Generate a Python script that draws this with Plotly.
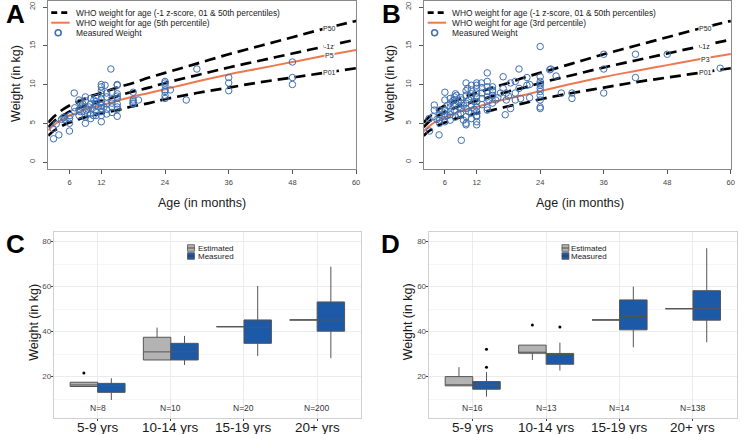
import plotly.graph_objects as go

W, H = 743, 434
FONT = "Liberation Sans, Arial, sans-serif"

# ---------------- Panels A/B : WHO weight-for-age reference curves (kg) ----------------
who_months = [2, 3, 4, 5, 6, 7, 8, 9, 10, 11, 12, 15, 18, 21, 24, 30, 36, 42, 48, 54, 60]
who_p50 = [5.1, 5.8, 6.4, 6.9, 7.3, 7.6, 7.9, 8.2, 8.5, 8.7, 8.9, 9.6, 10.2, 10.9, 11.5, 12.7, 13.9, 15.0, 16.1, 17.2, 18.2]
who_m1z = [4.5, 5.2, 5.7, 6.1, 6.5, 6.8, 7.0, 7.3, 7.5, 7.7, 7.9, 8.5, 9.1, 9.6, 10.2, 11.2, 12.2, 13.1, 14.0, 14.9, 15.8]
who_p01 = [3.4, 4.0, 4.4, 4.8, 5.1, 5.3, 5.6, 5.8, 5.9, 6.1, 6.3, 6.7, 7.2, 7.6, 8.1, 8.9, 9.6, 10.3, 10.9, 11.5, 12.1]
who_p5 = [4.1, 4.75, 5.25, 5.6, 6.0, 6.25, 6.5, 6.8, 7.0, 7.15, 7.3, 7.9, 8.45, 8.9, 9.4, 10.4, 11.3, 12.1, 12.9, 13.7, 14.45]
who_p3 = [3.97, 4.6, 5.1, 5.45, 5.8, 6.05, 6.3, 6.6, 6.75, 6.95, 7.1, 7.7, 8.2, 8.65, 9.15, 10.1, 10.97, 11.75, 12.5, 13.25, 13.95]
age_ticks = [6, 12, 24, 36, 48, 60]
wt_ticks = [0, 5, 10, 15, 20]

# Measured weights, panel A
a_age = [3.0, 4.0, 2.9, 3.5, 4.8, 5.1, 6.0, 6.0, 6.0, 6.1, 6.9, 7.8, 7.8, 7.8, 8.2, 8.5, 9.0, 9.0, 9.0, 9.2,
         9.4, 9.7, 10.0, 10.0, 10.0, 10.3, 10.6, 10.9, 11.0, 11.5, 12, 12, 12, 12, 12, 12, 12, 12, 12, 12,
         12.7, 13.8, 13, 13, 13, 14, 14, 14, 15, 15, 15, 15, 15, 15, 18, 18, 18, 19, 24, 24,
         24, 24, 24, 24, 24, 25, 28, 30, 36, 36, 36, 48, 48, 48,
         8, 8, 9, 9.5, 10, 10.5, 11, 11, 11, 13, 13, 14, 14, 15, 15, 7, 7, 5, 4.5, 12, 12.5, 15, 18, 18]
a_wt = [3.0, 3.5, 4.3, 4.9, 5.7, 5.5, 4.0, 5.0, 5.6, 6.0, 8.9, 8.0, 6.7, 6.0, 7.1, 7.5, 8.4, 5.0, 5.8, 6.7,
        6.2, 7.1, 7.5, 6.2, 5.6, 6.9, 8.0, 7.3, 6.5, 7.1, 9.7, 9.2, 8.8, 8.2, 7.7, 7.3, 6.9, 6.5, 6.0, 5.2,
        9.9, 12.0, 8.4, 7.5, 6.2, 8.0, 7.1, 9.0, 9.9, 8.8, 8.2, 7.5, 7.1, 5.9, 9.0, 8.0, 7.5, 8.0, 10.4, 10.2,
        9.9, 9.3, 9.1, 8.6, 8.2, 9.3, 8.0, 12.0, 10.9, 10.2, 9.2, 12.9, 10.9, 10.0,
        6.5, 7.7, 7.9, 6.8, 8.2, 6.0, 7.8, 6.0, 8.3, 8.9, 6.8, 6.4, 7.6, 6.8, 8.5, 7.0, 6.5, 5.8, 5.5, 10.0, 7.1, 10.0, 7.8, 7.6]

# Measured weights, panel B
b_age = [3.1, 4.0, 3.8, 4.9, 5, 5, 5, 5, 5.9, 6, 6, 6, 7, 7, 7, 7, 7, 7.8, 7.8, 7.8,
         7.8, 8.2, 8.5, 8.6, 9.1, 9.1, 9.1, 9.1, 10, 10, 10, 10, 10, 10, 10, 10.3, 11, 11, 11, 11,
         11, 12, 12, 12, 12, 12, 12, 12, 12, 12, 12, 12.9, 13, 13, 14, 14, 14, 14, 14, 14.3,
         15, 15, 15, 15.6, 16.5, 17, 17, 17.4, 17.6, 17.6, 18.4, 18.4, 19.3, 19.3, 19.3, 20.3, 21.5, 21.5, 24, 24,
         24, 24, 24, 24, 24, 24, 24, 24, 24, 25.8, 27, 28, 30, 30, 36, 36, 36, 42, 42, 48,
         58, 6.5, 7.5, 8, 8, 8.5, 9, 9, 9.5, 9.5, 10, 10.5, 10.5, 11, 11, 11.5, 11.5, 12, 12, 13,
         13, 14, 14, 15, 15, 16, 18, 20, 20, 22, 22, 26, 6, 7, 6.5, 6, 5.5, 4.5, 4, 3]
b_wt = [4.0, 7.35, 5.85, 3.5, 5.0, 5.4, 6.1, 6.7, 5.85, 6.7, 8.0, 9.0, 5.4, 6.1, 6.5, 7.1, 7.6, 7.35, 8.0, 8.4,
        6.7, 8.6, 6.1, 7.1, 2.8, 8.0, 7.6, 6.9, 10.2, 8.6, 7.6, 6.9, 5.85, 4.8, 5.0, 9.5, 9.9, 9.3, 8.4, 7.35,
        6.3, 8.9, 8.4, 7.8, 7.1, 6.5, 5.85, 5.2, 4.8, 9.9, 9.5, 10.2, 8.9, 8.2, 11.5, 10.4, 9.7, 9.1, 8.4, 8.0,
        9.1, 9.7, 8.6, 8.0, 8.9, 9.5, 11.0, 6.1, 8.9, 8.0, 10.2, 6.9, 10.4, 8.9, 8.0, 8.2, 10.9, 9.9, 11.0, 10.4,
        9.9, 9.5, 9.1, 8.0, 7.1, 6.9, 14.9, 10.1, 8.6, 11.9, 11.1, 8.9, 8.9, 8.2, 13.9, 12.0, 8.9, 13.9, 10.9, 13.9,
        12.1, 7.3, 7.9, 8.8, 5.8, 7.8, 8.3, 6.2, 7.3, 5.4, 9.2, 8.0, 6.5, 8.8, 5.6, 7.8, 6.8, 10.2, 6.0, 7.4,
        9.6, 7.0, 6.7, 7.6, 9.3, 8.3, 8.5, 9.5, 12.0, 8.3, 10.0, 12.0, 5.2, 8.2, 6.0, 6.2, 6.5, 5.5, 6.7, 5.6]

# ---------------- Panels C/D : box-plot summaries (kg) ----------------
age_groups = ["5-9 yrs", "10-14 yrs", "15-19 yrs", "20+ yrs"]
c_n_labels = ["N=8", "N=10", "N=20", "N=200"]
d_n_labels = ["N=16", "N=13", "N=14", "N=138"]
box_wt_ticks = [20, 40, 60, 80]

c_est_lo = [15.6, 27.4, 42.2, 45.2]
c_est_q1 = [15.6, 27.4, 42.2, 45.2]
c_est_med = [16.3, 31.0, 42.2, 45.2]
c_est_q3 = [17.5, 37.5, 42.2, 45.2]
c_est_hi = [17.5, 41.8, 42.2, 45.2]
c_meas_lo = [9.6, 25.2, 29.2, 28.2]
c_meas_q1 = [13.0, 27.4, 34.8, 40.2]
c_meas_med = [16.0, 31.1, 41.8, 45.2]
c_meas_q3 = [17.0, 34.8, 45.2, 53.2]
c_meas_hi = [19.3, 38.1, 60.3, 68.9]
c_out_group = [0]
c_out_series = ["est"]
c_out_val = [21.6]

d_est_lo = [15.9, 27.4, 45.2, 50.2]
d_est_q1 = [15.9, 30.4, 45.2, 50.2]
d_est_med = [15.9, 30.4, 45.2, 50.2]
d_est_q3 = [20.0, 34.0, 45.2, 50.2]
d_est_hi = [24.2, 34.0, 45.2, 50.2]
d_meas_lo = [11.1, 22.7, 33.0, 35.3]
d_meas_q1 = [14.4, 25.5, 40.8, 45.1]
d_meas_med = [16.2, 29.8, 46.7, 50.2]
d_meas_q3 = [17.8, 30.3, 54.1, 58.2]
d_meas_hi = [22.0, 35.1, 60.0, 77.1]
d_out_group = [1, 0, 0, 1]
d_out_series = ["est", "meas", "meas", "meas"]
d_out_val = [43.0, 32.2, 24.2, 42.1]

# ---------------- styling ----------------
BLUE_PT = "#3f70b2"
ORANGE = "#ee7850"
EST_FILL = "#b3b3b3"
MEAS_FILL = "#1c5aa8"
BOX_LINE = "#555555"
DODGE = 0.1875
BOXW = 0.375


def fx(x):
    return x / W


def fy(y):
    return 1 - y / H


fig = go.Figure()

# ----- Panels A and B -----
panels_ab = [
    dict(xa="x", ya="y", age=a_age, wt=a_wt, mid=who_p5, midlab="P5"),
    dict(xa="x2", ya="y2", age=b_age, wt=b_wt, mid=who_p3, midlab="P3"),
]
for p in panels_ab:
    for curve in (who_p50, who_m1z, who_p01):
        fig.add_trace(go.Scatter(x=who_months, y=curve, mode="lines", xaxis=p["xa"], yaxis=p["ya"],
                                 line=dict(color="black", width=2.7, dash="11px,6px", shape="spline"),
                                 hoverinfo="skip"))
    fig.add_trace(go.Scatter(x=who_months, y=p["mid"], mode="lines", xaxis=p["xa"], yaxis=p["ya"],
                             line=dict(color=ORANGE, width=2, shape="spline"), hoverinfo="skip"))
    fig.add_trace(go.Scatter(x=p["age"], y=p["wt"], mode="markers", xaxis=p["xa"], yaxis=p["ya"],
                             marker=dict(symbol="circle-open", size=6.5, color=BLUE_PT,
                                         line=dict(width=1, color=BLUE_PT))))

# ----- Panels C and D -----
panels_cd = [
    dict(xa="x3", ya="y3",
         est=(c_est_lo, c_est_q1, c_est_med, c_est_q3, c_est_hi),
         meas=(c_meas_lo, c_meas_q1, c_meas_med, c_meas_q3, c_meas_hi),
         og=c_out_group, os=c_out_series, ov=c_out_val, n=c_n_labels),
    dict(xa="x4", ya="y4",
         est=(d_est_lo, d_est_q1, d_est_med, d_est_q3, d_est_hi),
         meas=(d_meas_lo, d_meas_q1, d_meas_med, d_meas_q3, d_meas_hi),
         og=d_out_group, os=d_out_series, ov=d_out_val, n=d_n_labels),
]
cat_pos = [i + 1 for i in range(len(age_groups))]
for p in panels_cd:
    for key, off, fill in (("est", -DODGE, EST_FILL), ("meas", DODGE, MEAS_FILL)):
        lo, q1, med, q3, hi = p[key]
        fig.add_trace(go.Box(x=[c + off for c in cat_pos], lowerfence=lo, q1=q1, median=med, q3=q3,
                             upperfence=hi, width=BOXW, whiskerwidth=0, boxpoints=False,
                             fillcolor=fill, line=dict(color=BOX_LINE, width=1),
                             xaxis=p["xa"], yaxis=p["ya"], hoverinfo="skip"))
    ox = [cat_pos[g] + (-DODGE if s == "est" else DODGE) for g, s in zip(p["og"], p["os"])]
    fig.add_trace(go.Scatter(x=ox, y=p["ov"], mode="markers", xaxis=p["xa"], yaxis=p["ya"],
                             marker=dict(size=3, color="black"), hoverinfo="skip"))


# ----- axes -----
def ab_axes(xdom, ydom):
    xa = dict(domain=xdom, range=[2, 60.05], tickvals=age_ticks, ticks="outside", ticklen=4,
              tickcolor="#555", tickfont=dict(size=7.5, color="#444", family=FONT), showgrid=False,
              zeroline=False, showline=True, linecolor="#888", linewidth=1, mirror=True,
              ticklabelstandoff=2)
    ya = dict(domain=ydom, range=[-0.9, 20.8], tickvals=wt_ticks, ticks="outside", ticklen=4,
              tickcolor="#555", tickfont=dict(size=7.5, color="#444", family=FONT), tickangle=-90,
              showgrid=False, zeroline=False, showline=True, linecolor="#888", linewidth=1, mirror=True,
              ticklabelstandoff=5)
    return xa, ya


def cd_axes(xdom, ydom):
    xa = dict(domain=xdom, range=[0.4, 4.6], tickvals=cat_pos, ticktext=[""] * len(cat_pos), ticks="outside",
              ticklen=2, tickcolor="#444", showgrid=True, gridcolor="#ebebeb", gridwidth=1, zeroline=False,
              showline=True, linecolor="#d0d0d0", linewidth=1, mirror=True)
    ya = dict(domain=ydom, range=[1.6, 84.3], tickvals=box_wt_ticks, ticks="outside", ticklen=2,
              tickcolor="#444", tickfont=dict(size=8, color="#4d4d4d", family=FONT), showgrid=True,
              gridcolor="#ebebeb", gridwidth=1, zeroline=False, showline=True, linecolor="#d0d0d0",
              linewidth=1, mirror=True, ticklabelstandoff=-2,
              minor=dict(tickvals=[10, 30, 50, 70], showgrid=True, gridcolor="#f5f5f5", ticks=""))
    return xa, ya


top_dom = [fy(169), fy(0.8)]
bot_dom = [fy(418), fy(232)]
xa1, ya1 = ab_axes([fx(48.5), fx(358.3)], top_dom)
xa2, ya2 = ab_axes([fx(426), fx(735)], top_dom)
xa3, ya3 = cd_axes([fx(54), fx(363)], bot_dom)
xa4, ya4 = cd_axes([fx(431), fx(741)], bot_dom)
xa1["anchor"] = "y"; ya1["anchor"] = "x"
xa2["anchor"] = "y2"; ya2["anchor"] = "x2"
xa3["anchor"] = "y3"; ya3["anchor"] = "x3"
xa4["anchor"] = "y4"; ya4["anchor"] = "x4"

annotations = []
shapes = []


def txt(x, y, s, size, xanchor="center", yanchor="middle", color="#1a1a1a", bold=False, angle=0):
    annotations.append(dict(x=fx(x), y=fy(y), xref="paper", yref="paper", text=("<b>%s</b>" % s) if bold else s,
                            showarrow=False, xanchor=xanchor, yanchor=yanchor, textangle=angle,
                            font=dict(size=size, color=color, family=FONT)))


# panel letters
txt(16, 14, "A", 26, bold=True, color="black")
txt(394, 14, "B", 26, bold=True, color="black")
txt(16, 244, "C", 26, bold=True, color="black")
txt(393, 244, "D", 26, bold=True, color="black")

# axis titles
txt(16, 83, "Weight (in kg)", 12.5, angle=-90)
txt(203, 203, "Age (in months)", 12.5)
txt(392, 83, "Weight (in kg)", 12.5, angle=-90)
txt(583, 203, "Age (in months)", 12.5)
txt(34, 322, "Weight (in kg)", 12.5, angle=-90)
txt(410.5, 322, "Weight (in kg)", 12.5, angle=-90)

# legends A / B
legends_ab = [
    (51.5, 70, 58.5, 74, "WHO weight for age (5th percentile)"),
    (430, 448.5, 437, 452, "WHO weight for age (3rd percentile)"),
]
for x0, x1, xc, xt, midtext in legends_ab:
    shapes.append(dict(type="line", xref="paper", yref="paper", x0=fx(x0), x1=fx(x1), y0=fy(12.7), y1=fy(12.7),
                       line=dict(color="black", width=2.7, dash="6px,4px")))
    shapes.append(dict(type="line", xref="paper", yref="paper", x0=fx(x0), x1=fx(x1), y0=fy(22.7), y1=fy(22.7),
                       line=dict(color=ORANGE, width=2)))
    shapes.append(dict(type="circle", xref="paper", yref="paper", x0=fx(xc - 3), x1=fx(xc + 3),
                       y0=fy(32.7 + 3), y1=fy(32.7 - 3), line=dict(color=BLUE_PT, width=1.6)))
    txt(xt, 12.7, "WHO weight for age (-1 z-score, 01 &amp; 50th percentiles)", 8.4, xanchor="left")
    txt(xt, 22.7, midtext, 8.4, xanchor="left")
    txt(xt, 32.7, "Measured Weight", 8.4, xanchor="left")

# curve labels (placed on the curves near 54-55 months)
for xa, ya, mid, midlab, xs in (("x", "y", who_p5, "P5", 5), ("x2", "y2", who_p3, "P3", 6)):
    for curve, lab in ((who_p50, "P50"), (who_m1z, "-1z"), (mid, midlab), (who_p01, "P01")):
        annotations.append(dict(x=who_months[-2], y=curve[-2], xref=xa, yref=ya, text=lab, showarrow=False,
                                xshift=xs, bgcolor="white", borderpad=0,
                                font=dict(size=7, color="#1a1a1a", family=FONT)))

# legends C / D
for kx, tx in ((188.5, 197), (565, 572.5)):
    for yc, fill, lab in ((248, EST_FILL, "Estimated"), (256, MEAS_FILL, "Measured")):
        shapes.append(dict(type="rect", xref="paper", yref="paper", x0=fx(kx), x1=fx(kx + 7),
                           y0=fy(yc + 3.3), y1=fy(yc - 3.3), fillcolor=fill, line=dict(color=BOX_LINE, width=0.8)))
        shapes.append(dict(type="line", xref="paper", yref="paper", x0=fx(kx), x1=fx(kx + 7),
                           y0=fy(yc), y1=fy(yc), line=dict(color="#333", width=0.8)))
        txt(tx, yc, lab, 8, xanchor="left", color="#1a1a1a")

# N labels and category labels
for xa, labels in (("x3", c_n_labels), ("x4", d_n_labels)):
    for c, lab, grp in zip(cat_pos, labels, age_groups):
        annotations.append(dict(x=c, y=6.2, xref=xa, yref="y3" if xa == "x3" else "y4", text=lab,
                                showarrow=False, font=dict(size=8.5, color="#333", family=FONT)))
        annotations.append(dict(x=c, y=fy(418), xref=xa, yref="paper", text=grp, showarrow=False,
                                yanchor="top", font=dict(size=13.5, color="#1a1a1a", family=FONT)))

fig.update_layout(
    width=W, height=H, margin=dict(l=0, r=0, t=0, b=0),
    paper_bgcolor="white", plot_bgcolor="white", showlegend=False,
    font=dict(family=FONT), hovermode=False,
    xaxis=xa1, yaxis=ya1, xaxis2=xa2, yaxis2=ya2, xaxis3=xa3, yaxis3=ya3, xaxis4=xa4, yaxis4=ya4,
    annotations=annotations, shapes=shapes,
)

fig.write_html("out.html", config={"displayModeBar": False},
               post_script="document.body.style.margin='0';document.body.style.overflow='hidden';")
